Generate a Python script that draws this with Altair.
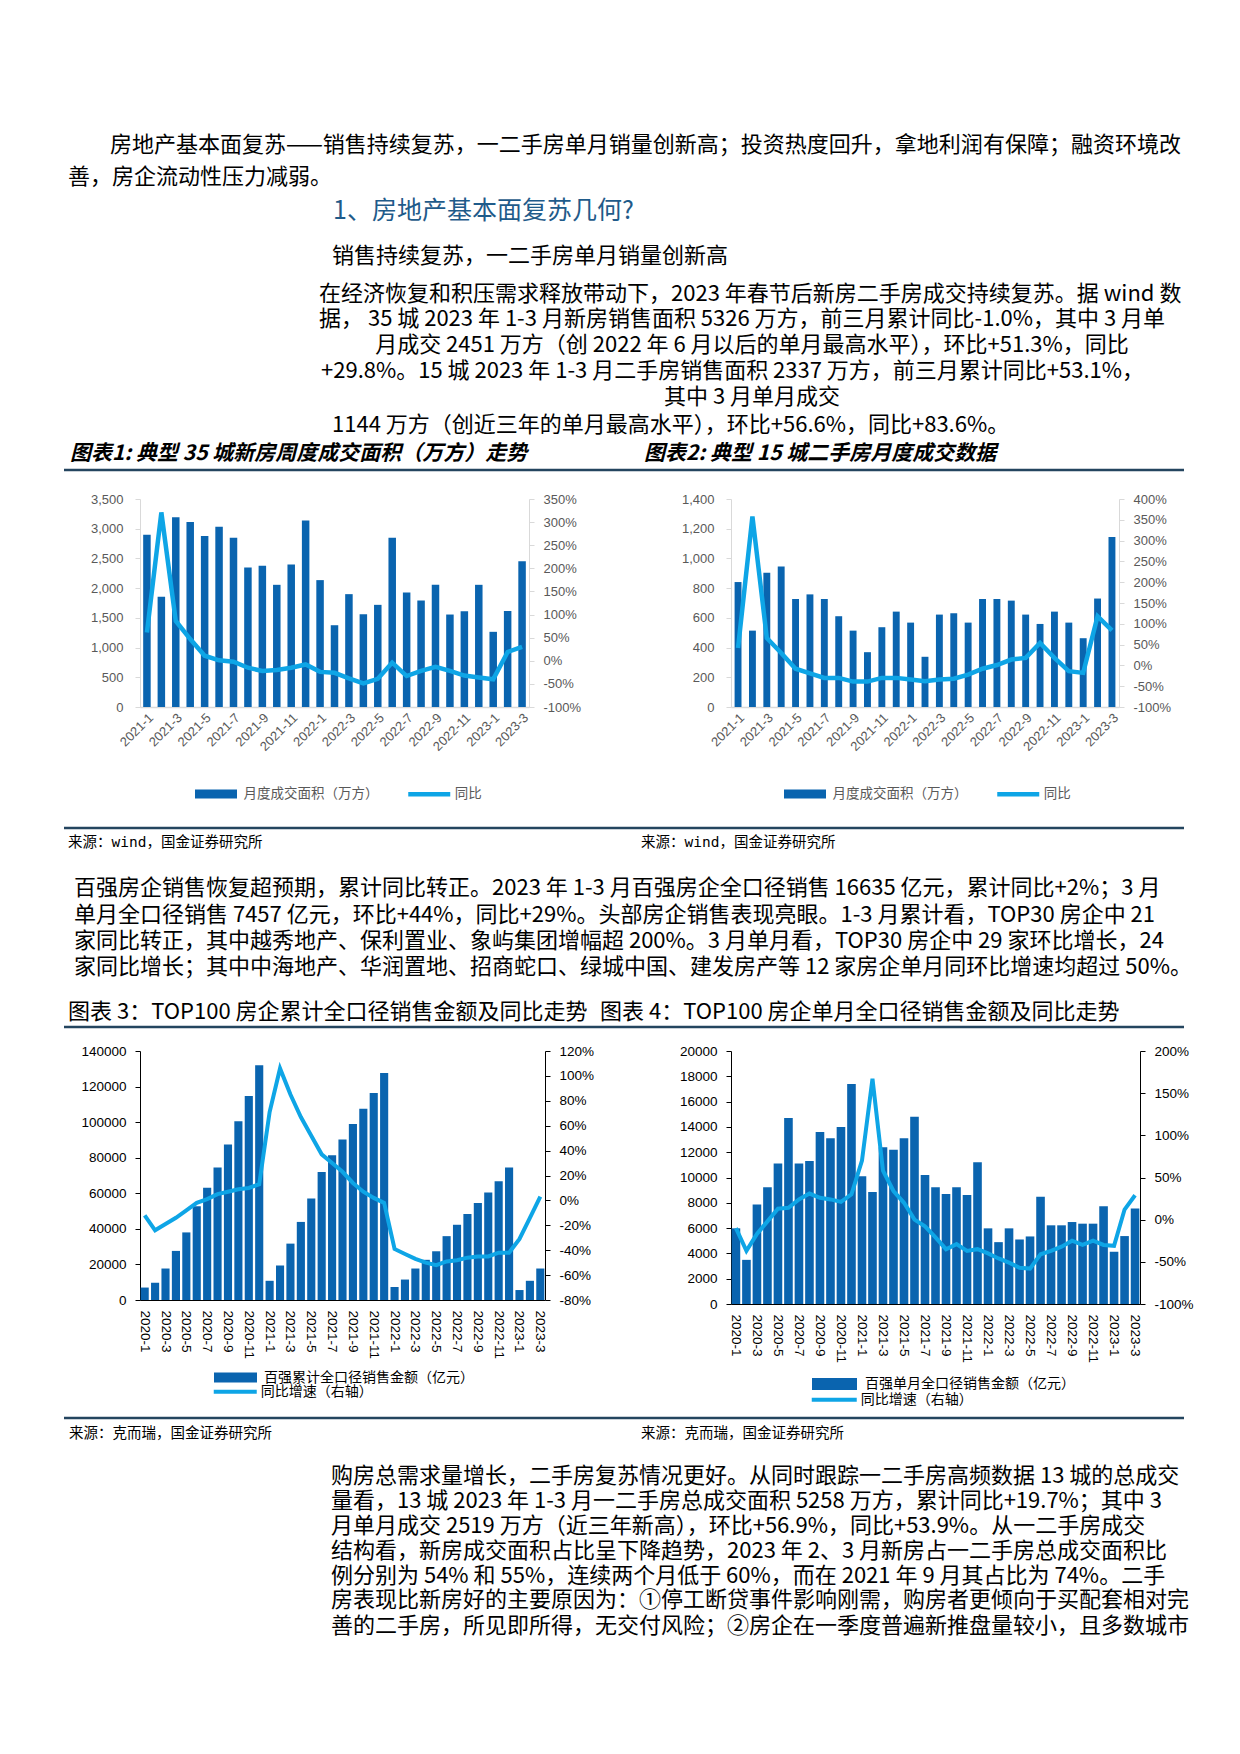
import altair as alt
import pandas as pd

FONT_CJK = "Noto Sans CJK SC"
FONT_NUM = "Liberation Sans"
FONT_SRC = "DejaVu Sans Mono, Noto Sans CJK SC"

BAR = "#0A64AF"
LINE = "#0EA5E6"
RULE = "#24455F"
HEAD = "#1F5B8A"

# ---------------- text content ----------------
PARA1 = [
    "房地产基本面复苏——销售持续复苏，一二手房单月销量创新高；投资热度回升，拿地利润有保障；融资环境改",
    "善，房企流动性压力减弱。",
]
HEADING = "1、房地产基本面复苏几何?"
SUBHEAD = "销售持续复苏，一二手房单月销量创新高"
PARA_A = [
    "在经济恢复和积压需求释放带动下，2023 年春节后新房二手房成交持续复苏。据 wind 数",
    "据， 35 城 2023 年 1-3 月新房销售面积 5326 万方，前三月累计同比-1.0%，其中 3 月单",
    "月成交 2451 万方（创 2022 年 6 月以后的单月最高水平），环比+51.3%，同比",
    "+29.8%。15 城 2023 年 1-3 月二手房销售面积 2337 万方，前三月累计同比+53.1%，",
    "其中 3 月单月成交",
    "1144 万方（创近三年的单月最高水平），环比+56.6%，同比+83.6%。",
]
TITLE1 = "图表1: 典型 35 城新房周度成交面积（万方）走势"
TITLE2 = "图表2: 典型 15 城二手房月度成交数据"
SOURCE_WIND = "来源：wind，国金证券研究所"
PARA_B = [
    "百强房企销售恢复超预期，累计同比转正。2023 年 1-3 月百强房企全口径销售 16635 亿元，累计同比+2%；3 月",
    "单月全口径销售 7457 亿元，环比+44%，同比+29%。头部房企销售表现亮眼。1-3 月累计看，TOP30 房企中 21",
    "家同比转正，其中越秀地产、保利置业、象屿集团增幅超 200%。3 月单月看，TOP30 房企中 29 家环比增长，24",
    "家同比增长；其中中海地产、华润置地、招商蛇口、绿城中国、建发房产等 12 家房企单月同环比增速均超过 50%。",
]
TITLE3 = "图表 3：TOP100 房企累计全口径销售金额及同比走势"
TITLE4 = "图表 4：TOP100 房企单月全口径销售金额及同比走势"
SOURCE_KER = "来源：克而瑞，国金证券研究所"
PARA_C = [
    "购房总需求量增长，二手房复苏情况更好。从同时跟踪一二手房高频数据 13 城的总成交",
    "量看，13 城 2023 年 1-3 月一二手房总成交面积 5258 万方，累计同比+19.7%；其中 3",
    "月单月成交 2519 万方（近三年新高），环比+56.9%，同比+53.9%。从一二手房成交",
    "结构看，新房成交面积占比呈下降趋势，2023 年 2、3 月新房占一二手房总成交面积比",
    "例分别为 54% 和 55%，连续两个月低于 60%，而在 2021 年 9 月其占比为 74%。二手",
    "房表现比新房好的主要原因为：①停工断贷事件影响刚需，购房者更倾向于买配套相对完",
    "善的二手房，所见即所得，无交付风险；②房企在一季度普遍新推盘量较小，且多数城市",
]

# ---------------- chart data ----------------
MONTHS_A = ["2021-1", "2021-2", "2021-3", "2021-4", "2021-5", "2021-6", "2021-7", "2021-8",
            "2021-9", "2021-10", "2021-11", "2021-12", "2022-1", "2022-2", "2022-3", "2022-4",
            "2022-5", "2022-6", "2022-7", "2022-8", "2022-9", "2022-10", "2022-11", "2022-12",
            "2023-1", "2023-2", "2023-3"]
NEW35_AREA = [2900, 1854, 3191, 3112, 2876, 3034, 2848, 2348, 2376, 2056, 2399, 3140, 2135,
              1376, 1899, 1562, 1719, 2848, 1927, 1792, 2056, 1556, 1612, 2056, 1265, 1615, 2451]
NEW35_YOY = [61, 321, 86, 47, 11, 1, -2, -15, -22, -20, -15, -8, -24, -26, -38, -49, -39, -4,
             -33, -22, -13, -22, -32, -36, -40, 19, 30]
SEC15_AREA = [841, 514, 904, 946, 727, 758, 727, 611, 514, 369, 537, 642, 568, 338, 622, 631,
              568, 727, 727, 716, 622, 559, 642, 568, 463, 730, 1144]
SEC15_YOY = [42, 358, 66, 30, -8, -19, -30, -30, -39, -39, -30, -30, -34, -38, -34, -32, -22,
             -8, 1, 14, 18, 54, 18, -14, -18, 118, 84]

MONTHS_B = ["2020-1", "2020-2", "2020-3", "2020-4", "2020-5", "2020-6", "2020-7", "2020-8",
            "2020-9", "2020-10", "2020-11", "2020-12"] + MONTHS_A
TOP100_CUM = [7000, 9700, 17700, 27600, 38000, 52700, 63100, 74500, 87500, 100500, 114700, 132000,
              10800, 19400, 31700, 43900, 57000, 71900, 81400, 90300, 98900, 107600, 116400, 127700,
              7300, 11500, 17700, 22600, 27400, 35900, 42300, 48400, 54600, 60500, 66700, 74500,
              5600, 10800, 17700]
TOP100_CUM_YOY = [-12, -24, -19, -14, -8, -2, 1, 5, 7, 9, 10, 13,
                  71, 106, 85, 67, 52, 37, 30, 23, 14, 7, 2, -2,
                  -39, -43, -47, -50, -52, -49, -48, -46, -45, -45, -42, -42,
                  -31, -14, 3]
TOP100_MON = [5980, 3490, 7860, 9230, 11100, 14700, 11100, 11300, 13600, 13100, 14000, 17400,
              10100, 8860, 12400, 12200, 13100, 14800, 10200, 9230, 8700, 9230, 8620, 11200,
              5980, 4890, 5980, 5100, 5340, 8470, 6220, 6220, 6480, 6350, 6350, 7720,
              4130, 5370, 7550]
TOP100_MON_YOY = [-10, -37, -17, -2, 13, 14, 24, 31, 26, 24, 21, 30,
                  70, 167, 58, 34, 20, 0, -8, -21, -35, -29, -37, -35,
                  -40, -46, -51, -57, -58, -41, -37, -32, -25, -30, -25, -30,
                  -31, 12, 29]

ONE = pd.DataFrame({"k": [0]})


def txt(s, x, y, size=22, color="#000000", align="left", font=FONT_CJK,
        weight="normal", style="normal"):
    return alt.Chart(ONE).mark_text(
        align=align, baseline="middle", font=font, fontSize=size, color=color,
        fontWeight=weight, fontStyle=style
    ).encode(x=alt.value(x), y=alt.value(y), text=alt.value(s))


def hrule(x1, x2, y):
    return alt.Chart(ONE).mark_rule(color=RULE, strokeWidth=2.5).encode(
        x=alt.value(x1), x2=alt.value(x2), y=alt.value(y))


def blank(w=1, h=1):
    return alt.Chart(ONE).mark_point(opacity=0, size=1).encode(
        x=alt.value(0), y=alt.value(0)).properties(width=w, height=h)


def combo(months, bar_vals, yoy_vals, bar_name, line_name, c):
    df = pd.DataFrame({"month": months, "value": bar_vals, "yoy": yoy_vals,
                       "bar_series": bar_name, "line_series": line_name})
    x = alt.X("month:N", sort=months, title=None,
              scale=alt.Scale(paddingInner=c["pi"], paddingOuter=c["po"]),
              axis=alt.Axis(values=months[::2], labelAngle=c["angle"], labelPadding=c["xpad"],
                            labelFont=FONT_NUM, labelFontSize=c["xfs"], labelColor=c["lab"],
                            domainColor=c["ax"], domainWidth=c["dw"], ticks=False, grid=False,
                            labelOverlap=False))
    leg_common = dict(title=None, orient="none", padding=0, labelFont=FONT_CJK,
                      labelFontSize=c["lfs"], labelColor=c["llab"], labelOffset=2,
                      labelLimit=400, symbolType="stroke")
    bars = alt.Chart(df).mark_bar().encode(
        x=x,
        y=alt.Y("value:Q", title=None, scale=alt.Scale(domain=c["ydom"], nice=False),
                axis=alt.Axis(orient="left", values=c["yticks"], format=c["yfmt"], grid=False,
                              domainColor=c["ax"], tickColor=c["ax"], tickSize=5,
                              labelPadding=c["lpad"], labelFont=FONT_NUM,
                              labelFontSize=c["yfs"], labelColor=c["lab"])),
        color=alt.Color("bar_series:N", scale=alt.Scale(domain=[bar_name], range=[c["bar"]]),
                        legend=alt.Legend(legendX=c["bleg"][0], legendY=c["bleg"][1],
                                          symbolSize=c["bsym"] ** 2, symbolStrokeWidth=c["bsw"],
                                          symbolStrokeColor=c["bar"], **leg_common)),
    )
    line = alt.Chart(df).mark_line(strokeWidth=c["lw"]).encode(
        x=x,
        y=alt.Y("yoy:Q", title=None, scale=alt.Scale(domain=c["rdom"], nice=False, zero=False),
                axis=alt.Axis(orient="right", values=c["rticks"], labelExpr="datum.value + '%'",
                              grid=False, domainColor=c["ax"], tickColor=c["ax"], tickSize=5,
                              labelPadding=c["rpad"], labelFont=FONT_NUM,
                              labelFontSize=c["yfs"], labelColor=c["lab"])),
        stroke=alt.Stroke("line_series:N", scale=alt.Scale(domain=[line_name], range=[LINE]),
                          legend=alt.Legend(legendX=c["lleg"][0], legendY=c["lleg"][1],
                                            symbolSize=c["lsym"] ** 2, symbolStrokeWidth=c["lw"],
                                            **leg_common)),
    )
    return alt.layer(bars, line).resolve_scale(y="independent").properties(
        width=c["w"], height=c["h"])


style_grey = dict(ax="#D9D9D9", lab="#595959", llab="#595959", dw=1.5, angle=315, xpad=4,
                  xfs=13, yfs=13, lfs=13.5, lw=4.5, bar=BAR, lpad=12, rpad=9)
style_black = dict(ax="#000000", lab="#000000", llab="#000000", dw=1, angle=90, xpad=10,
                   xfs=13.5, yfs=13.5, lfs=14, lw=4, bar=BAR, lpad=9, rpad=9)

c1 = dict(style_grey, w=389, h=208, pi=0.48, po=0.22, ydom=[0, 3500],
          yticks=list(range(0, 3501, 500)), yfmt=",.0f", rdom=[-100, 350],
          rticks=list(range(-100, 351, 50)), bleg=(50.5, 269.5), bsym=42, bsw=9,
          lleg=(265.75, 271.75), lsym=42)
c2 = dict(style_grey, w=388, h=208, pi=0.52, po=0.25, ydom=[0, 1400],
          yticks=list(range(0, 1401, 200)), yfmt=",.0f", rdom=[-100, 400],
          rticks=list(range(-100, 401, 50)), bleg=(48.5, 269.5), bsym=42, bsw=9,
          lleg=(263.75, 271.75), lsym=42)
c3 = dict(style_black, w=405, h=249, pi=0.22, po=0.06, ydom=[0, 140000],
          yticks=list(range(0, 140001, 20000)), yfmt="d", rdom=[-80, 120],
          rticks=list(range(-80, 121, 20)), bleg=(69, 300), bsym=43, bsw=10,
          lleg=(71.75, 317.25), lsym=43)
c4 = dict(style_black, w=409, h=253, pi=0.18, po=0.06, ydom=[0, 20000],
          yticks=list(range(0, 20001, 2000)), yfmt="d", rdom=[-100, 200],
          rticks=list(range(-100, 201, 50)), bleg=(75, 304.5), bsym=45, bsw=12,
          lleg=(78.75, 324.25), lsym=45)

chart1 = combo(MONTHS_A, NEW35_AREA, NEW35_YOY, "月度成交面积（万方）", "同比", c1)
chart2 = combo(MONTHS_A, SEC15_AREA, SEC15_YOY, "月度成交面积（万方）", "同比", c2)
chart3 = combo(MONTHS_B, TOP100_CUM, TOP100_CUM_YOY, "百强累计全口径销售金额（亿元）",
               "同比增速（右轴）", c3)
chart4 = combo(MONTHS_B, TOP100_MON, TOP100_MON_YOY, "百强单月全口径销售金额（亿元）",
               "同比增速（右轴）", c4)

# ---------------- text panels ----------------
row0_layers = [
    txt(PARA1[0], 101, 136),
    txt(PARA1[1], 59, 168),
    txt(HEADING, 324, 202, size=25, color=HEAD),
    txt(SUBHEAD, 323, 247),
    txt(PARA_A[0], 310, 285),
    txt(PARA_A[1], 310, 310),
    txt(PARA_A[2], 743, 336, align="center"),
    txt(PARA_A[3], 312, 362),
    txt(PARA_A[4], 743, 388, align="center"),
    txt(PARA_A[5], 323, 416),
    txt(TITLE1, 61, 445, size=21, weight="bold", style="italic"),
    txt(TITLE2, 635, 445, size=21, weight="bold", style="italic"),
    hrule(55, 1175, 461),
]
row0 = alt.layer(*row0_layers).properties(width=131, height=490)

row2_layers = [
    hrule(55, 1175, 121),
    txt(SOURCE_WIND, 59, 136, size=14.5, font=FONT_SRC),
    txt(SOURCE_WIND, 632, 136, size=14.5, font=FONT_SRC),
] + [txt(line, 65, y) for line, y in zip(PARA_B, [181, 208, 234, 260])] + [
    txt(TITLE3, 59, 305),
    txt(TITLE4, 591, 305),
    hrule(55, 1175, 320),
]
row2 = alt.layer(*row2_layers).properties(width=131, height=344)

row4_layers = [
    hrule(55, 1175, 114),
    txt(SOURCE_KER, 60, 130, size=14.5, font=FONT_SRC),
    txt(SOURCE_KER, 632, 130, size=14.5, font=FONT_SRC),
] + [txt(line, 322, y) for line, y in zip(PARA_C, [172, 197, 222, 247, 272, 296, 322])]
row4 = alt.layer(*row4_layers).properties(width=131, height=360)

cells = [
    row0, blank(), blank(), blank(),
    blank(131), chart1, blank(186), chart2,
    row2, blank(), blank(), blank(),
    blank(131), chart3, blank(159), chart4,
    row4, blank(), blank(), blank(),
]

chart = alt.concat(
    *cells, columns=4, spacing=0, bounds="flush",
    align={"row": "each", "column": "none"},
).resolve_scale(
    color="independent", stroke="independent"
).resolve_legend(
    color="independent", stroke="independent"
).properties(
    padding=0, background="white"
).configure_view(stroke="transparent")

chart.save("out.html", embed_options={"renderer": "svg", "actions": False})
